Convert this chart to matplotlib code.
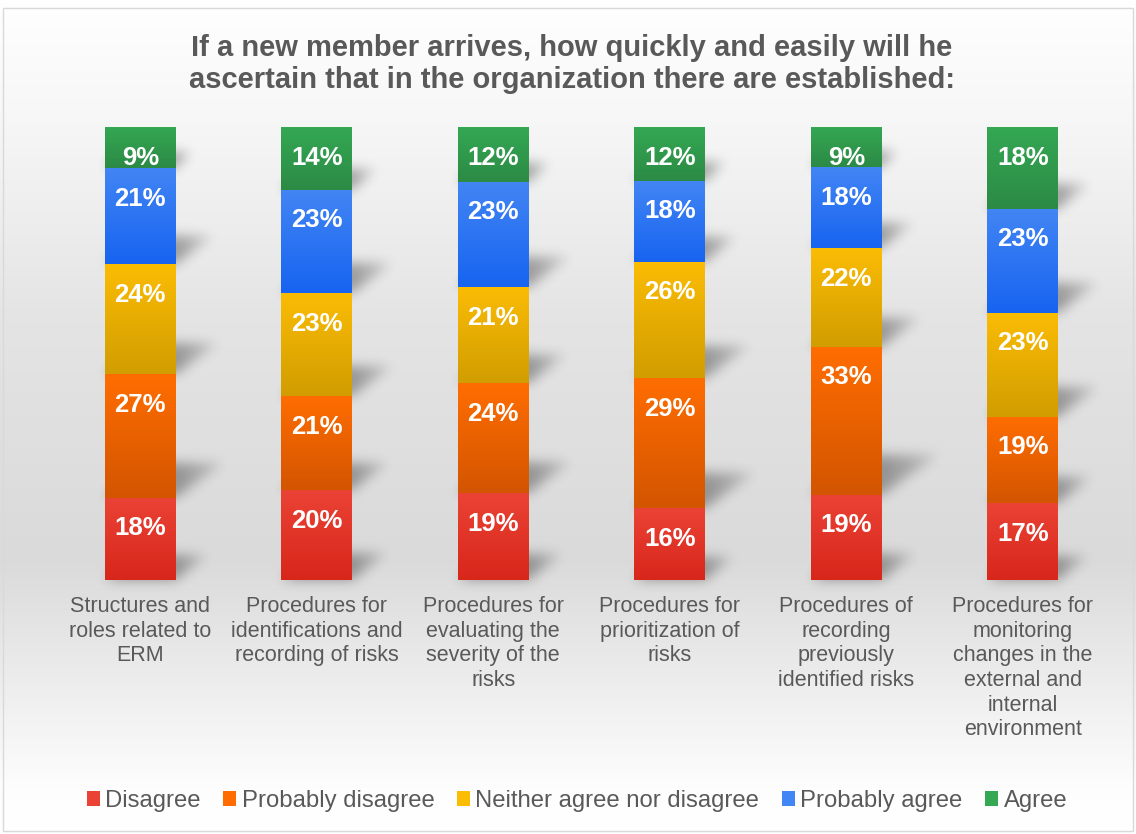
import numpy as np
import matplotlib
matplotlib.use("Agg")
import matplotlib.pyplot as plt
from matplotlib.colors import LinearSegmentedColormap
from matplotlib.path import Path
from matplotlib.patches import Rectangle, Patch

plt.rcParams["font.family"] = ["Liberation Sans", "DejaVu Sans"]

# ---- data ----
categories = [
    "Structures and\nroles related to\nERM",
    "Procedures for\nidentifications and\nrecording of risks",
    "Procedures for\nevaluating the\nseverity of the\nrisks",
    "Procedures for\nprioritization of\nrisks",
    "Procedures of\nrecording\npreviously\nidentified risks",
    "Procedures for\nmonitoring\nchanges in the\nexternal and\ninternal\nenvironment",
]
series_names = ["Disagree", "Probably disagree", "Neither agree nor disagree",
                "Probably agree", "Agree"]
disagree = [18, 20, 19, 16, 19, 17]
probably_disagree = [27, 21, 24, 29, 33, 19]
neither = [24, 23, 21, 26, 22, 23]
probably_agree = [21, 23, 23, 18, 18, 23]
agree = [9, 14, 12, 12, 9, 18]
title = ("If a new member arrives, how quickly and easily will he\n"
         "ascertain that in the organization there are established:")

top_colors = ["#EA4335", "#FF6D01", "#FBBC04", "#4285F4", "#34A853"]
bottom_colors = ["#D8261B", "#D35500", "#D19D00", "#1764F0", "#2C8A45"]
text_grey = "#595959"

# ---- figure & background ----
W, H = 1136, 834
fig = plt.figure(figsize=(W / 100, H / 100), dpi=100)

bg = fig.add_axes([0, 0, 1, 1], zorder=-1)
bg.set_xlim(0, W)
bg.set_ylim(0, H)
bg.axis("off")

# vertical grey gradient: white at the top, grey low down, white again at the bottom
y_frac = np.linspace(0, 1, H)          # 0 = bottom, 1 = top
stops_y = [0.0, 0.05, 0.33, 0.62, 0.85, 1.0]
stops_v = [1.00, 0.995, 0.855, 0.895, 0.965, 1.0]
grey = np.interp(y_frac, stops_y, stops_v)
bg_img = np.repeat(grey[:, None], 2, axis=1)
bg.imshow(np.dstack([bg_img] * 3), extent=(0, W, 0, H), origin="lower",
          aspect="auto", interpolation="bilinear", zorder=0)

# ---- main axes ----
ax = fig.add_axes([52 / W, (H - 580) / H, 1059 / W, 453 / H], zorder=1)
ax.set_facecolor("none")

values = np.array([disagree, probably_disagree, neither, probably_agree, agree], dtype=float)
shares = values / values.sum(axis=0) * 100
x = np.arange(len(categories))
bar_w = 0.40

bottom = np.zeros(len(categories))
containers = []
for i, name in enumerate(series_names):
    bars = ax.bar(x, shares[i], bottom=bottom, width=bar_w, color="none",
                  edgecolor="none", label=name, zorder=2)
    containers.append(bars)
    bottom += shares[i]

ax.set_xlim(-0.5, len(categories) - 0.5)
ax.set_ylim(0, 100)

# gradient fill for every segment
grad = np.linspace(0, 1, 128).reshape(-1, 1)
for i, bars in enumerate(containers):
    cmap = LinearSegmentedColormap.from_list(f"g{i}", [top_colors[i], bottom_colors[i]])
    for p, v in zip(bars.patches, values[i]):
        x0, y0, w, h = p.get_x(), p.get_y(), p.get_width(), p.get_height()
        ax.imshow(grad, extent=(x0, x0 + w, y0, y0 + h), origin="upper", cmap=cmap,
                  vmin=0, vmax=1, aspect="auto", interpolation="bilinear", zorder=2)
        ax.annotate(f"{int(v)}%", xy=(x0 + w / 2, y0 + h), xytext=(0, -22.0),
                    textcoords="offset points", ha="center", va="center",
                    color="white", fontsize=18.5, fontweight="bold", zorder=4)

ax.set_xlim(-0.5, len(categories) - 0.5)
ax.set_ylim(0, 100)

# soft perspective shadows falling to the right of each segment
alpha = np.zeros((H, W))
for bars in containers:
    for p in bars.patches:
        x0, y0, w, h = p.get_x(), p.get_y(), p.get_width(), p.get_height()
        (xl, yb), (xr, yt) = ax.transData.transform([(x0, y0), (x0 + w, y0 + h)])
        hp = yt - yb
        dx, dy = 0.38 * hp, 7 + 0.22 * hp
        poly = Path([(xl, yb), (xr, yb), (xr + dx, yb + dy), (xl + dx, yb + dy), (xl, yb)])
        c0, c1 = int(xl) - 2, int(xr + dx) + 3
        r0, r1 = int(yb) - 2, int(yb + dy) + 3
        cc, rr = np.meshgrid(np.arange(c0, c1) + 0.5, np.arange(r0, r1) + 0.5)
        inside = poly.contains_points(np.column_stack([cc.ravel(), rr.ravel()]))
        inside = inside.reshape(cc.shape).astype(float)
        fade = 1 - 0.6 * np.clip((cc - xr) / dx, 0, 1)
        alpha[r0:r1, c0:c1] = np.maximum(alpha[r0:r1, c0:c1], inside * fade)

sigma = 6.0
k = np.arange(-18, 19)
kern = np.exp(-k ** 2 / (2 * sigma ** 2))
kern /= kern.sum()
alpha = np.apply_along_axis(lambda r: np.convolve(r, kern, mode="same"), 1, alpha)
alpha = np.apply_along_axis(lambda c: np.convolve(c, kern, mode="same"), 0, alpha)
shadow = np.zeros((H, W, 4))
shadow[..., 3] = alpha * 0.34
bg.imshow(shadow, extent=(0, W, 0, H), origin="lower", aspect="auto",
          interpolation="bilinear", zorder=1)
bg.set_xlim(0, W)
bg.set_ylim(0, H)

# axes cosmetics
for s in ax.spines.values():
    s.set_visible(False)
ax.set_yticks([])
ax.set_xticks(x, categories)
ax.tick_params(axis="x", length=0, pad=11.5, labelsize=15.5, labelcolor=text_grey)
for t in ax.get_xticklabels():
    t.set_linespacing(1.23)
    t.set_verticalalignment("top")

# title
fig.text(572 / W, 1 - 64 / H, title, ha="center", va="center", fontsize=21,
         fontweight="bold", color=text_grey, linespacing=1.2)

# legend
handles = [Patch(facecolor=c, edgecolor="none") for c in top_colors]
fig.legend(handles, series_names, loc="center", bbox_to_anchor=(577 / W, 1 - 801 / H),
           ncol=5, frameon=False, fontsize=17.2, labelcolor=text_grey,
           handlelength=0.55, handleheight=0.55, handletextpad=0.22, columnspacing=0.95)

# outer frame
fig.patches.append(Rectangle((3.5 / W, 3.5 / H), (W - 7) / W, (H - 11) / H,
                             transform=fig.transFigure, fill=False,
                             edgecolor="#d9d9d9", linewidth=1, zorder=5))

fig.savefig("out.png", dpi=100)
